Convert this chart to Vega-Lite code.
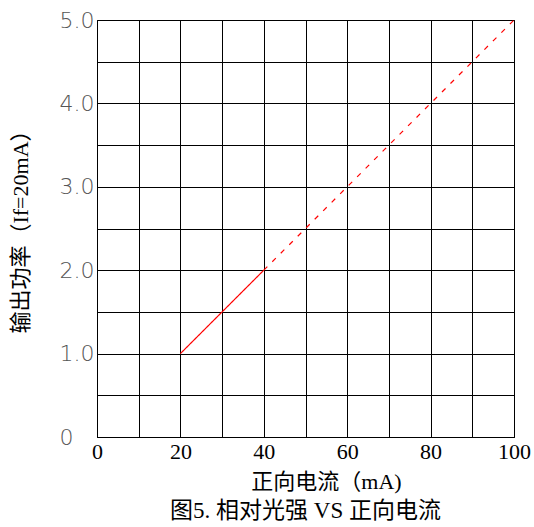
{
  "$schema": "https://vega.github.io/schema/vega-lite/v6.json",
  "width": 417,
  "height": 417,
  "autosize": "none",
  "padding": {"left": 97, "top": 20, "right": 20, "bottom": 90},
  "background": "white",
  "title": {
    "text": "图5. 相对光强 VS 正向电流",
    "orient": "bottom",
    "anchor": "middle",
    "offset": 8,
    "font": "Liberation Serif, Noto Sans CJK SC",
    "fontSize": 23,
    "fontWeight": "normal",
    "color": "#000"
  },
  "config": {"view": {"stroke": "#000", "strokeWidth": 1}},
  "data": {
    "values": [
      {"current": 20, "power": 1.0, "seg": "solid"},
      {"current": 40, "power": 2.0, "seg": "solid"},
      {"current": 40, "power": 2.0, "seg": "dashed"},
      {"current": 100, "power": 5.0, "seg": "dashed"}
    ]
  },
  "mark": {"type": "line", "stroke": "#ff0000", "color": "#ff0000", "strokeWidth": 1.2},
  "encoding": {
    "x": {
      "field": "current",
      "type": "quantitative",
      "scale": {"domain": [0, 100], "nice": false},
      "axis": {
        "title": "正向电流（mA)",
        "values": [0, 10, 20, 30, 40, 50, 60, 70, 80, 90, 100],
        "labelExpr": "datum.value % 20 == 0 ? datum.label : ''",
        "grid": true,
        "gridColor": "#000",
        "gridOpacity": 1,
        "gridWidth": 1,
        "domainColor": "#000",
        "ticks": false,
        "labelPadding": 4,
        "labelFont": "Liberation Serif",
        "labelFontSize": 22,
        "labelColor": "#000",
        "labelFlush": false,
        "titleFont": "Liberation Serif, Noto Sans CJK SC",
        "titleFontSize": 22,
        "titleFontWeight": "normal",
        "titleColor": "#000",
        "titleX": 229,
        "titleY": 44,
        "titleBaseline": "middle",
        "titleAlign": "center"
      }
    },
    "y": {
      "field": "power",
      "type": "quantitative",
      "scale": {"domain": [0, 5], "nice": false},
      "axis": {
        "title": "输出功率（If=20mA）",
        "values": [0, 0.5, 1, 1.5, 2, 2.5, 3, 3.5, 4, 4.5, 5],
        "labelExpr": "datum.value == 0 ? '0' : (datum.value % 1 == 0 ? format(datum.value, '.1f') : '')",
        "grid": true,
        "gridColor": "#000",
        "gridOpacity": 1,
        "gridWidth": 1,
        "domainColor": "#000",
        "ticks": false,
        "labelAlign": "left",
        "labelPadding": 38,
        "labelFont": "DejaVu Sans",
        "labelFontSize": 22,
        "labelFontWeight": 300,
        "labelColor": "#555",
        "labelFlush": false,
        "titleFont": "Liberation Serif, Noto Sans CJK SC",
        "titleFontSize": 22,
        "titleFontWeight": "normal",
        "titleColor": "#000",
        "titleX": -77,
        "titleY": 206,
        "titleAngle": -90,
        "titleBaseline": "middle",
        "titleAlign": "center"
      }
    },
    "strokeDash": {
      "field": "seg",
      "type": "nominal",
      "scale": {"domain": ["solid", "dashed"], "range": [[1, 0], [5, 7]]},
      "legend": null
    }
  }
}
